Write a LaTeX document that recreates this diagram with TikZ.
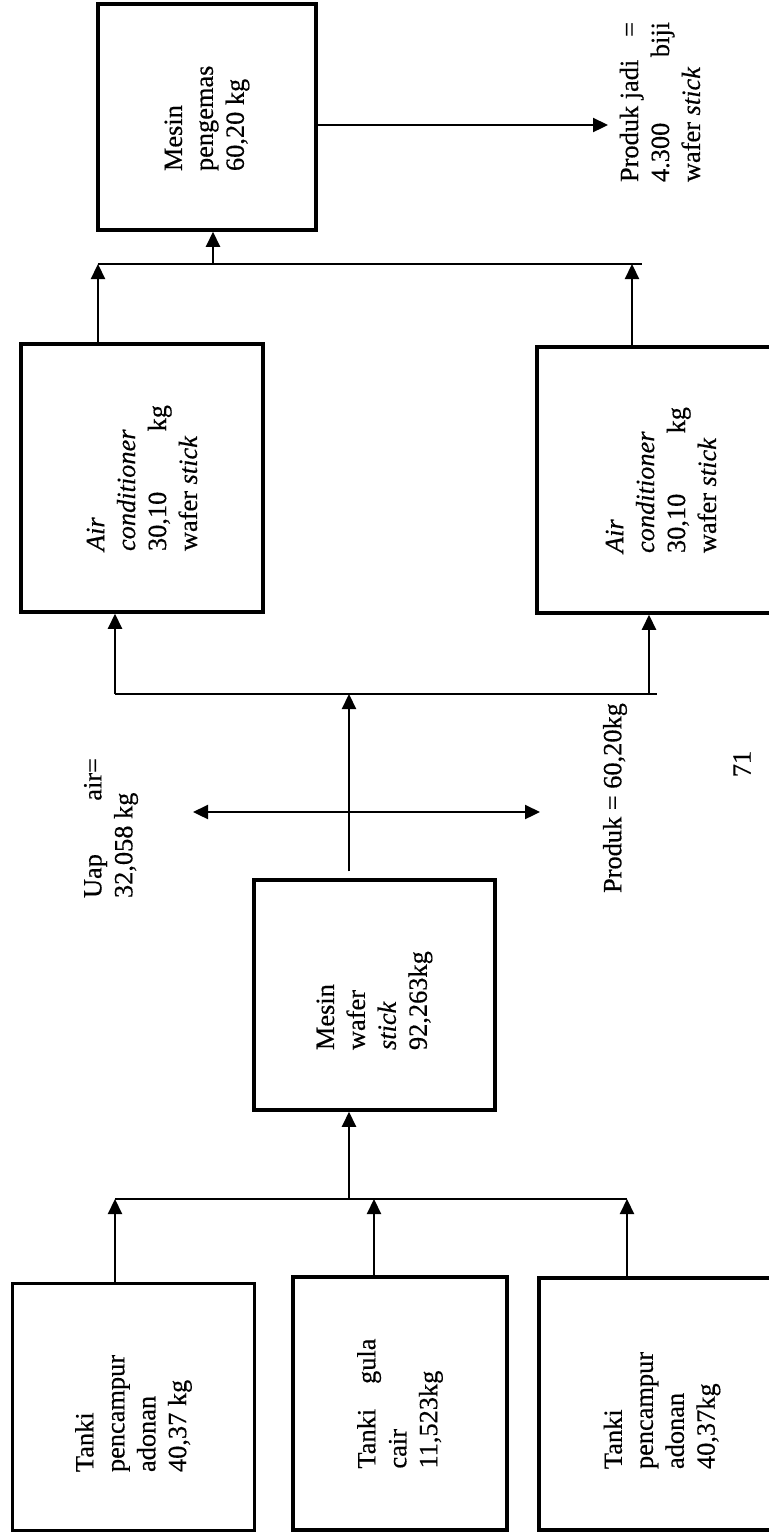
\documentclass[tikz,border=0pt]{standalone}
\usepackage{fontspec}
\setmainfont{Liberation Serif}[FakeBold=0.4]
\usepackage{tikz}
\usetikzlibrary{positioning,calc}
\usetikzlibrary{arrows.meta}
\newcommand{\spread}[2]{\makebox[\linewidth]{#1\hfill #2}}
\newcommand{\vtext}[2]{\rotatebox{90}{\parbox{#1}{\raggedright #2}}}
\tikzset{
  unit/.style={draw=black,line width=2pt,inner sep=0pt,fill=white},
  flow/.style={draw=black,line width=1.3pt,-{Triangle[length=0.3cm,width=0.28cm]}},
  both/.style={draw=black,line width=1.3pt,{Triangle[length=0.3cm,width=0.28cm]}-{Triangle[length=0.3cm,width=0.28cm]}},
  bus/.style={draw=black,line width=1pt},
  lbl/.style={inner sep=0pt},
}

\begin{document}
\begin{tikzpicture}[x=0.2mm,y=-0.2mm,font=\fontsize{15}{17.6}\selectfont]
\useasboundingbox (0,0) rectangle (769,1537);
\clip (0,0) rectangle (769,1537);
% mesin dan tanki
\node[unit,minimum width=4.36cm,minimum height=4.52cm] (pengemas) at (207,117)
  {\vtext{2.16cm}{Mesin\\ pengemas\\ 60,20 kg}};
\node[unit,minimum width=4.84cm,minimum height=5.36cm] (acL) at (142,478)
  {\vtext{2.92cm}{\textit{Air}\\ \textit{conditioner}\\ \spread{30,10}{kg}\\ wafer \textit{stick}}};
\node[unit,minimum width=4.96cm,minimum height=5.32cm] (acR) at (661,480)
  {\vtext{2.92cm}{\textit{Air}\\ \textit{conditioner}\\ \spread{30,10}{kg}\\ wafer \textit{stick}}};
\node[unit,minimum width=4.82cm,minimum height=4.6cm] (wafer) at (374.5,995)
  {\vtext{2.2cm}{Mesin\\ wafer\\ \textit{stick}\\ 92,263kg}};
\node[unit,minimum width=4.84cm,minimum height=4.94cm] (tank1) at (133.5,1407)
  {\vtext{2.6cm}{Tanki\\ pencampur\\ adonan\\ 40,37 kg}};
\node[unit,minimum width=4.28cm,minimum height=5.06cm] (tank2) at (400,1403.5)
  {\vtext{2.6cm}{\spread{Tanki}{gula}\\ cair\\ 11,523kg}};
\node[unit,minimum width=4.92cm,minimum height=5.04cm] (tank3) at (662,1404)
  {\vtext{2.6cm}{Tanki\\ pencampur\\ adonan\\ 40,37kg}};
% keterangan
\node[lbl] (hasil) at (660,102)
  {\vtext{3.2cm}{\spread{Produk jadi}{=}\\ \spread{4.300}{biji}\\ wafer \textit{stick}}};
\node[lbl] (uapL) at (111,828) {\vtext{2.8cm}{\spread{Uap}{air=}\\ 32,058 kg}};
\node[lbl] (produkL) at (615,798) {\rotatebox{90}{Produk = 60,20kg}};
\node[lbl] (hal) at (742,764) {\rotatebox{90}{71}};
% titik cabang
\coordinate (busA) at (349,1199);
\coordinate (busB) at (349,694);
\coordinate (busBr) at (657,694);
\coordinate (busC) at (213,264);
\coordinate (busCr) at (642,264);
\coordinate (uapE) at (193,812);
\coordinate (prodE) at (540,812);
\coordinate (jadiE) at (608,125);
% tanki ke mesin wafer
\path ([xshift=-0.37cm]tank1.north) coordinate (t1u)
      ([xshift=-0.52cm]tank2.north) coordinate (t2u)
      ([xshift=-0.70cm]tank3.north) coordinate (t3u);
\foreach \t in {t1u,t2u,t3u} \draw[flow] (\t) -- (\t |- busA);
\draw[bus] (t1u |- busA) -- (t3u |- busA);
\draw[flow] (busA) -- (busA |- wafer.south);
% mesin wafer ke air conditioner
\path (busA |- wafer.north) ++(0,-7) coordinate (wtop);
\draw[flow] (wtop) -- (busB);
\draw[both] (uapE) -- (prodE);
\path ([xshift=-0.54cm]acL.south) coordinate (aLd)
      ([xshift=-0.24cm]acR.south) coordinate (aRd);
\draw[bus] (aLd |- busB) -- (busBr);
\foreach \a in {aLd,aRd} \draw[flow] (\a |- busB) -- (\a);
% air conditioner ke pengemas
\path ([xshift=-0.88cm]acL.north) coordinate (aLu)
      ([xshift=-0.58cm]acR.north) coordinate (aRu);
\foreach \a in {aLu,aRu} \draw[flow] (\a) -- (\a |- busC);
\draw[bus] (aLu |- busC) -- (busCr);
\draw[flow] (busC) -- (busC |- pengemas.south);
\path ([yshift=-0.16cm]pengemas.east) coordinate (pOut);
\draw[flow] (pOut) -- (pOut -| jadiE);
\end{tikzpicture}
\end{document}
